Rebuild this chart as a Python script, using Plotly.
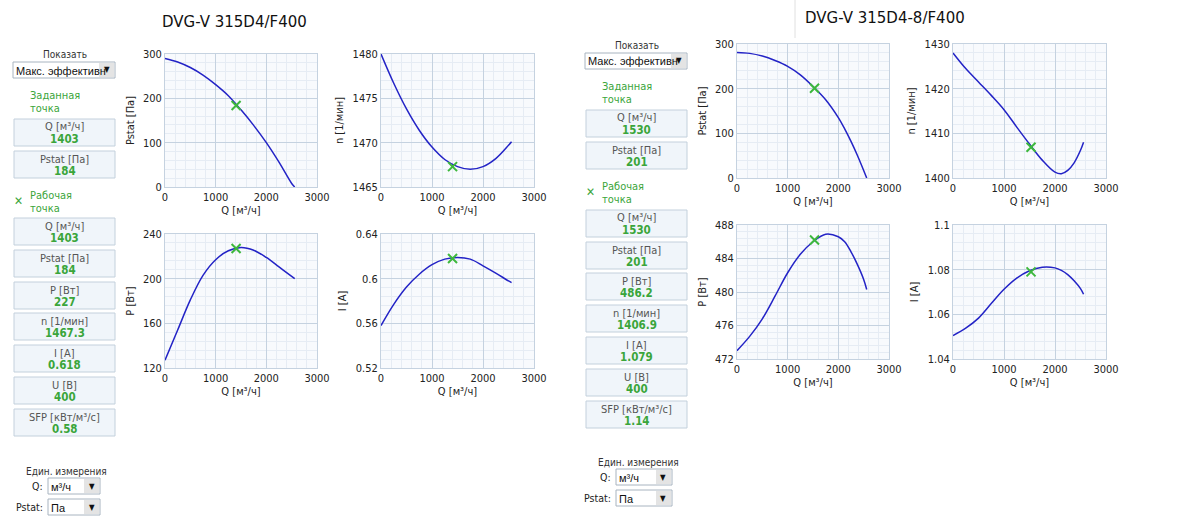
import plotly.graph_objects as go

# ---------------- data ----------------
Q_a = [0, 250, 500, 750, 1000, 1250, 1500, 1750, 2000, 2250, 2500, 2560]
Q_b = [0, 250, 500, 750, 1000, 1250, 1500, 1750, 2000, 2125, 2250, 2375, 2500, 2560]

# DVG-V 315D4/F400
pstat_a = [290, 282, 269.5, 252.5, 231, 206, 174, 139, 100, 56, 8, 0]
n_a = [1480, 1476.7, 1473.8, 1471.4, 1469.5, 1468.1, 1467.3, 1467.0, 1467.3, 1468.2, 1469.7, 1470.1]
p_a = [127, 154, 181, 203, 217, 225, 228, 225.5, 219, 210.5, 202, 200]
i_a = [0.558, 0.577, 0.5925, 0.604, 0.6125, 0.6175, 0.619, 0.6175, 0.6115, 0.605, 0.598, 0.5965]
work_a = {"Q": 1403, "Pstat": 184, "P": 227, "n": 1467.3, "I": 0.618, "U": 400, "SFP": 0.58}

# DVG-V 315D4-8/F400
pstat_b = [281, 279, 273, 263, 250, 231, 205, 175, 135, 110, 82, 51, 17, 0]
n_b = [1428, 1424.5, 1421.5, 1418.5, 1415.3, 1411.4, 1407.6, 1404.0, 1401.3, 1400.95, 1401.7, 1403.4, 1406.2, 1408]
p_b = [473.0, 474.7, 476.8, 479.5, 482.3, 484.5, 486.0, 486.9, 486.6, 486.0, 484.8, 483.3, 481.5, 480.3]
i_b = [1.0505, 1.0538, 1.0583, 1.0648, 1.0712, 1.0762, 1.0795, 1.0811, 1.0808, 1.0797, 1.0778, 1.075, 1.0715, 1.069]
work_b = {"Q": 1530, "Pstat": 201, "P": 486.2, "n": 1406.9, "I": 1.079, "U": 400, "SFP": 1.14}

titles = ["DVG-V 315D4/F400", "DVG-V 315D4-8/F400"]
box_labels = ["Q [м³/ч]", "Pstat [Па]", "P [Вт]", "n [1/мин]", "I [A]", "U [В]", "SFP [кВт/м³/с]"]
box_keys = ["Q", "Pstat", "P", "n", "I", "U", "SFP"]
x_ticks = [0, 1000, 2000, 3000]

# ---------------- helpers ----------------
W, H = 1200, 525
def fx(x): return x / W
def fy(y): return 1 - y / H

GREEN = "#3aa53a"
LINE = "#2323c6"
FONT = "DejaVu Sans Condensed, DejaVu Sans, sans-serif"
FONT2 = "Liberation Sans, Arial, sans-serif"

fig = go.Figure()
layout = dict(width=W, height=H, autosize=False, margin=dict(l=0, r=0, t=0, b=0, pad=0),
              paper_bgcolor="white", plot_bgcolor="#f8fafd", showlegend=False,
              font=dict(family=FONT, size=11, color="#222"))
shapes, annotations = [], []

plots = [
    ((165, 317, 54, 187), Q_a, pstat_a, work_a["Q"], work_a["Pstat"], [0, 300], 100, 20, "Pstat [Па]"),
    ((381, 534, 54, 187), Q_a, n_a, work_a["Q"], work_a["n"], [1465, 1480], 5, 1, "n [1/мин]"),
    ((165, 317, 234, 368), Q_a, p_a, work_a["Q"], work_a["P"], [120, 240], 40, 8, "P [Вт]"),
    ((381, 534, 234, 368), Q_a, i_a, work_a["Q"], work_a["I"], [0.52, 0.64], 0.04, 0.008, "I [A]"),
    ((737, 889, 44, 178), Q_b, pstat_b, work_b["Q"], work_b["Pstat"], [0, 300], 100, 20, "Pstat [Па]"),
    ((953, 1106, 44, 178), Q_b, n_b, work_b["Q"], work_b["n"], [1400, 1430], 10, 2, "n [1/мин]"),
    ((737, 889, 225, 359), Q_b, p_b, work_b["Q"], work_b["P"], [472, 488], 4, 0.8, "P [Вт]"),
    ((953, 1106, 225, 359), Q_b, i_b, work_b["Q"], work_b["I"], [1.04, 1.1], 0.02, 0.004, "I [A]"),
]

MAJ = "#c5d2e0"
MIN = "#e6ecf4"
for k, (box, xs, ys, wx, wy, yr, dt, mn, ttl) in enumerate(plots, start=1):
    sfx = "" if k == 1 else str(k)
    x0, x1, y0, y1 = box
    fig.add_trace(go.Scatter(x=xs, y=ys, mode="lines", line=dict(color=LINE, width=1.5, shape="spline"),
                             xaxis="x" + sfx, yaxis="y" + sfx, hoverinfo="skip"))
    fig.add_trace(go.Scatter(x=[wx], y=[wy], mode="markers",
                             marker=dict(symbol="x-thin", size=9, line=dict(color="#3db83d", width=2)),
                             xaxis="x" + sfx, yaxis="y" + sfx, hoverinfo="skip"))
    layout["xaxis" + sfx] = dict(domain=[fx(x0), fx(x1)], range=[0, 3000], tickvals=x_ticks,
                                 anchor="y" + sfx, showgrid=True, gridcolor=MAJ, gridwidth=1,
                                 minor=dict(dtick=200, showgrid=True, gridcolor=MIN, gridwidth=1),
                                 showline=True, linecolor=MAJ, mirror=True, zeroline=False, ticks="",
                                 automargin=False,
                                 tickfont=dict(size=11, color="#222"),
                                 title=dict(text="Q [м³/ч]", standoff=2, font=dict(size=11, color="#222")))
    layout["yaxis" + sfx] = dict(domain=[fy(y1), fy(y0)], range=yr, dtick=dt, tick0=yr[0],
                                 anchor="x" + sfx, showgrid=True, gridcolor=MAJ, gridwidth=1,
                                 minor=dict(dtick=mn, tick0=yr[0], showgrid=True, gridcolor=MIN, gridwidth=1),
                                 showline=True, linecolor=MAJ, mirror=True, zeroline=False, ticks="",
                                 automargin=False,
                                 tickfont=dict(size=11, color="#222"),
                                 title=dict(text=ttl, standoff=6, font=dict(size=11, color="#222")))

# titles
annotations.append(dict(text=titles[0], x=fx(160), y=fy(22), xref="paper", yref="paper",
                        xanchor="left", yanchor="middle", showarrow=False,
                        font=dict(family="DejaVu Sans", size=15, color="#111")))
annotations.append(dict(text=titles[1], x=fx(803), y=fy(18), xref="paper", yref="paper",
                        xanchor="left", yanchor="middle", showarrow=False,
                        font=dict(family="DejaVu Sans", size=15, color="#111")))
shapes.append(dict(type="line", xref="paper", yref="paper", x0=fx(795), x1=fx(795), y0=fy(0), y1=fy(38),
                   line=dict(color="#e0e0e0", width=1)))

def text(t, x, y, size=11, color="#222", anchor="center", bold=False, family=FONT):
    if bold:
        t = "<b>" + t + "</b>"
    annotations.append(dict(text=t, x=fx(x), y=fy(y), xref="paper", yref="paper", xanchor=anchor,
                            yanchor="middle", showarrow=False, font=dict(size=size, color=color, family=family)))

def dropdown(x0, x1, y0, y1, label):
    shapes.append(dict(type="rect", xref="paper", yref="paper", x0=fx(x0), x1=fx(x1), y0=fy(y1), y1=fy(y0),
                       fillcolor="white", line=dict(color="#a8b4c0", width=1)))
    shapes.append(dict(type="rect", xref="paper", yref="paper", x0=fx(x1 - 16), x1=fx(x1 - 1), y0=fy(y1 - 1),
                       y1=fy(y0 + 1), fillcolor="#e4e4e4", line=dict(width=0)))
    text("▼", x1 - 8.5, (y0 + y1) / 2, size=8, color="#111")
    text(label, x0 + 1, (y0 + y1) / 2 + 0.5, size=11, color="#111", anchor="left", family=FONT2)

def info_box(x0, x1, y0, y1, label, value):
    shapes.append(dict(type="rect", xref="paper", yref="paper", x0=fx(x0), x1=fx(x1), y0=fy(y1), y1=fy(y0),
                       fillcolor="#f0f5fa", line=dict(color="#c3d0dc", width=1)))
    cx = (x0 + x1) / 2
    text(label, cx, y0 + 8, size=11, color="#555")
    text(value, cx, y0 + 20, size=11.5, color=GREEN, bold=True)

def panel(x0, x1, show_y, set_tops, work_tops, units_y, qdd, pdd, w, sep_y):
    cx = (x0 + x1) / 2
    text("Показать", cx, show_y, size=10, color="#333")
    dropdown(x0 - 1, x1, show_y + 7, show_y + 23, "Макс. эффективн")
    text("Заданная", x0 + 14, sep_y[0], color=GREEN, anchor="left")
    text("точка", x0 + 14, sep_y[0] + 13, color=GREEN, anchor="left")
    for i, t in enumerate(set_tops):
        info_box(x0, x1, t, t + 27, box_labels[i], f"{w[box_keys[i]]}")
    text("Рабочая", x0 + 14, sep_y[1], color=GREEN, anchor="left")
    text("точка", x0 + 14, sep_y[1] + 13, color=GREEN, anchor="left")
    text("✕", x0 + 4, sep_y[1] + 6, size=12, color=GREEN)
    for i, t in enumerate(work_tops):
        info_box(x0, x1, t, t + 27, box_labels[i], f"{w[box_keys[i]]}")
    text("Един. измерения", cx + 2, units_y, size=10, color="#333")
    text("Q:", qdd[0] - 3, (qdd[2] + qdd[3]) / 2, size=10.5, color="#222", anchor="right")
    dropdown(*qdd, "м³/ч")
    text("Pstat:", pdd[0] - 3, (pdd[2] + pdd[3]) / 2, size=10.5, color="#222", anchor="right")
    dropdown(*pdd, "Па")

panel(14, 115, 55, [119, 151], [218, 250, 282, 313, 345, 377, 409], 471,
      (48, 100, 478, 494), (48, 100, 499, 515), work_a, (95, 195))
panel(586, 687, 46, [110, 142], [210, 242, 273, 305, 337, 369, 401], 462,
      (616, 672, 469, 485), (616, 672, 490, 506), work_b, (86, 186))

layout["shapes"] = shapes
layout["annotations"] = annotations
fig.update_layout(**layout)
fig.write_html("out.html", config={"displayModeBar": False},
               post_script="document.body.style.margin='0';document.body.style.overflow='hidden';")
